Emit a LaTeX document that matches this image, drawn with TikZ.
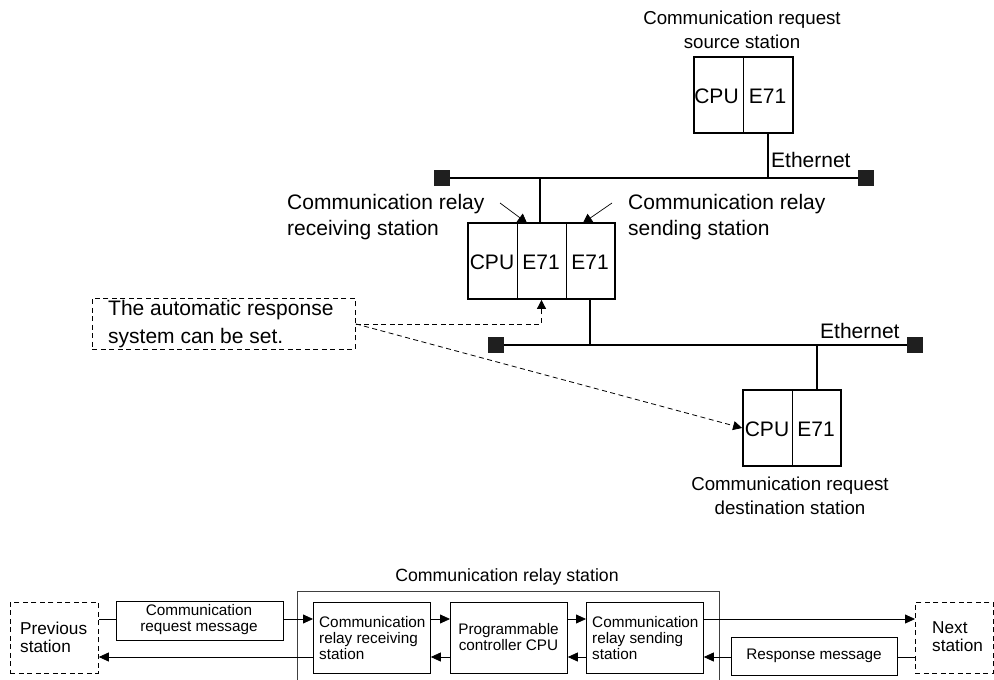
\documentclass[tikz,border=0pt]{standalone}
\usepackage{fontspec}
\setmainfont{Liberation Sans}
\usetikzlibrary{arrows.meta}
\newcommand\fTwentyOne{\fontsize{21}{26}\selectfont}
\newcommand\fNineteen{\fontsize{18.7}{24}\selectfont}
\newcommand\fSeventeen{\fontsize{17.2}{18}\selectfont}
\newcommand\fSixteenH{\fontsize{17.7}{20}\selectfont}
\newcommand\fFifteen{\fontsize{15.3}{16}\selectfont}
\begin{document}
\begin{tikzpicture}[x=1pt,y=-1pt,
  stn/.style={draw, line width=1.8pt, inner sep=0pt},
  divl/.style={line width=0.8pt},
  bus/.style={line width=2.2pt},
  term/.style={fill=black!88, minimum size=16pt, inner sep=0pt},
  txtA/.style={inner sep=0pt, font=\fTwentyOne},
  txtB/.style={inner sep=0pt, font=\fNineteen, align=center},
  arr/.style={-{Triangle[length=9pt,width=10pt]}, line width=0.7pt},
  dsh/.style={dash pattern=on 5pt off 3.5pt, line width=0.8pt},
  darr/.style={dsh, -{Triangle[length=9pt,width=9pt]}},
  bbox/.style={draw, line width=0.8pt, inner sep=0pt},
  barr/.style={-{Triangle[length=10pt,width=9pt]}, line width=0.8pt},
  txtS/.style={inner sep=0pt, font=\fFifteen},
  txtP/.style={inner sep=0pt, font=\fSeventeen, align=left, anchor=west}
]
\useasboundingbox (0,0) rectangle (994,680);

% ---------- source station ----------
\node[txtB] (srclab) at (742,30) {Communication request\\source station};
\node[stn, minimum width=99pt, minimum height=76pt] (src) at (743.5,95) {};
\draw[divl] (src.north) -- (src.south);
\node[txtA] (srccpu) at (716.5,96) {CPU};
\node[txtA] (srce) at (767.5,96) {E71};

% ---------- bus 1 ----------
\node[term] (b1l) at (442,178) {};
\node[term] (b1r) at (866,178) {};
\draw[bus] (b1l) -- (b1r);
\coordinate (t1) at (768,178);
\draw[bus] (src.south -| t1) -- (t1);
\node[txtA, anchor=west] (eth1) at (771,160) {Ethernet};

% ---------- relay station ----------
\node[stn, minimum width=147pt, minimum height=76pt] (rel) at (541.5,261) {};
\draw[divl] ([xshift=-24.5pt]rel.north) -- ([xshift=-24.5pt]rel.south);
\draw[divl] ([xshift=24.5pt]rel.north) -- ([xshift=24.5pt]rel.south);
\node[txtA] (relcpu) at (492,262) {CPU};
\node[txtA] (rele1) at (541,262) {E71};
\node[txtA] (rele2) at (590,262) {E71};
\coordinate (t2) at (540,178);
\draw[bus] (t2) -- (t2 |- rel.north);

\node[txtA, anchor=west, align=left] (rcvlab) at (287,217) {Communication relay\\receiving station};
\node[txtA, anchor=west, align=left] (sndlab) at (628,217) {Communication relay\\sending station};
\coordinate (a1s) at (500,203);
\coordinate (a1e) at (527,223);
\coordinate (a2s) at (612,203);
\coordinate (a2e) at (583,223);
\draw[arr] (a1s) -- (a1e);
\draw[arr] (a2s) -- (a2e);

% ---------- bus 2 ----------
\node[term] (b2l) at (496,345) {};
\node[term] (b2r) at (915,345) {};
\draw[bus] (b2l) -- (b2r);
\coordinate (t3) at (590,345);
\draw[bus] (rel.south -| t3) -- (t3);
\node[txtA, anchor=west] (eth2) at (820,331) {Ethernet};

% ---------- destination station ----------
\node[stn, minimum width=98pt, minimum height=76pt] (dst) at (792,428) {};
\draw[divl] (dst.north) -- (dst.south);
\node[txtA] (dstcpu) at (767,429) {CPU};
\node[txtA] (dste) at (816,429) {E71};
\coordinate (t4) at (817,345);
\draw[bus] (t4) -- (t4 |- dst.north);
\node[txtB] (dstlab) at (790,496) {Communication request\\destination station};

% ---------- note ----------
\node[draw, dsh, minimum width=263pt, minimum height=51pt, inner sep=0pt, anchor=north west] (note) at (92,298) {};
\node[inner sep=0pt, anchor=west, align=left, font=\fontsize{21}{28}\selectfont] (notetxt) at (108,324) {The automatic response\\system can be set.};
\draw[darr] (note.east) -| (rel.south);
\draw[darr] (note.east) -- (dst.west);

% ---------- bottom flow ----------
\node[inner sep=0pt, font=\fSixteenH] (crslab) at (507,577) {Communication relay station};
\node[draw, line width=1pt, draw=black!75, minimum width=422pt, minimum height=100pt, inner sep=0pt, anchor=north west] (crs) at (297,591) {};

\node[draw, dsh, minimum width=88pt, minimum height=71pt, inner sep=0pt, anchor=north west] (prev) at (10,602) {};
\node[txtP] (prevtxt) at (20,637) {Previous\\station};

\node[bbox, minimum width=167pt, minimum height=39pt, anchor=north west] (msg) at (116,601) {};
\node[txtS, align=center] (msgtxt) at (199,620) {Communication\\request message};

\node[bbox, minimum width=117pt, minimum height=71pt, anchor=north west] (recv) at (313,602) {};
\node[txtS, anchor=west, align=left] (recvtxt) at (319,638) {Communication\\relay receiving\\station};

\node[bbox, minimum width=117pt, minimum height=71pt, anchor=north west] (pcpu) at (450,602) {};
\node[txtS, align=center] (pcputxt) at (508.5,637) {Programmable\\controller CPU};

\node[bbox, minimum width=117pt, minimum height=71pt, anchor=north west] (send) at (586,602) {};
\node[txtS, anchor=west, align=left] (sendtxt) at (592,638) {Communication\\relay sending\\station};

\node[draw, dsh, minimum width=78pt, minimum height=71pt, inner sep=0pt, anchor=north west] (next) at (915,602) {};
\node[txtP] (nexttxt) at (932,637) {Next\\station};

\node[bbox, minimum width=166pt, minimum height=38pt, anchor=north west] (resp) at (731,637) {};
\node[txtS] (resptxt) at (814,656) {Response message};

\coordinate (yu) at (0,619);
\coordinate (yl) at (0,657);
\draw[line width=0.8pt] (prev.east |- yu) -- (msg.west |- yu);
\draw[barr] (msg.east |- yu) -- (recv.west |- yu);
\draw[barr] (recv.west |- yl) -- (prev.east |- yl);
\draw[barr] (recv.east |- yu) -- (pcpu.west |- yu);
\draw[barr] (pcpu.west |- yl) -- (recv.east |- yl);
\draw[barr] (pcpu.east |- yu) -- (send.west |- yu);
\draw[barr] (send.west |- yl) -- (pcpu.east |- yl);
\draw[barr] (send.east |- yu) -- (next.west |- yu);
\draw[line width=0.8pt] (next.west |- yl) -- (resp.east |- yl);
\draw[barr] (resp.west |- yl) -- (send.east |- yl);
\end{tikzpicture}
\end{document}
